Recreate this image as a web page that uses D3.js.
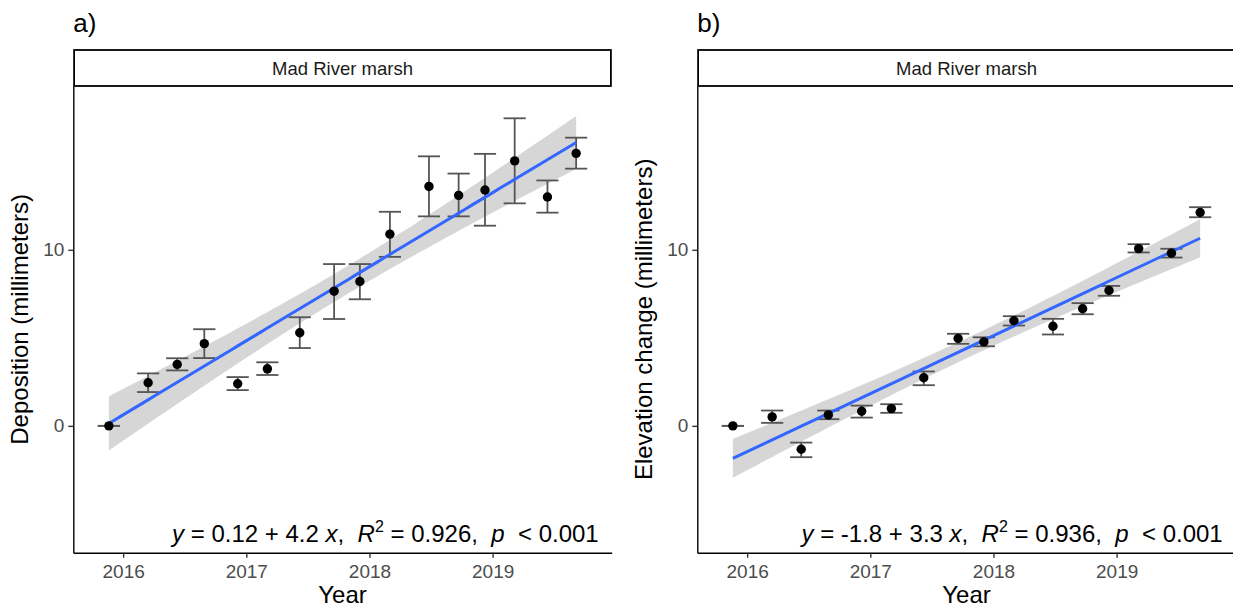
<!DOCTYPE html>
<html>
<head>
<meta charset="utf-8">
<script src="https://cdn.jsdelivr.net/npm/d3@7"></script>
<style>
body { margin: 0; background: #fff; }
text { font-family: "Liberation Sans", Arial, sans-serif; }
</style>
</head>
<body>
<svg id="chart" width="1233" height="609"></svg>
<script>
// sampling dates as decimal years (shared by both panels)
var years = [2015.884, 2016.203, 2016.439, 2016.659, 2016.930, 2017.171, 2017.434, 2017.713,
             2017.922, 2018.166, 2018.483, 2018.724, 2018.938, 2019.179, 2019.445, 2019.678];

// panel a: deposition (mm), with error bar ends
var deposition = [0, 2.45, 3.49, 4.67, 2.39, 3.24, 5.29, 7.65, 8.20, 10.89, 13.60, 13.09, 13.40, 15.05, 13.00, 15.48];
var depositionLow = [0, 1.92, 3.15, 3.85, 2.03, 2.89, 4.42, 6.07, 7.19, 9.60, 11.90, 11.90, 11.37, 12.64, 12.11, 14.61];
var depositionHigh = [0, 2.98, 3.84, 5.49, 2.77, 3.61, 6.17, 9.19, 9.19, 12.16, 15.31, 14.33, 15.45, 17.47, 13.94, 16.37];

// panel b: elevation change (mm), with error bar ends
var elevation = [0, 0.51, -1.33, 0.62, 0.83, 0.98, 2.73, 4.96, 4.77, 5.97, 5.66, 6.65, 7.69, 10.07, 9.81, 12.12];
var elevationLow = [0, 0.17, -1.78, 0.38, 0.47, 0.74, 2.31, 4.66, 4.52, 5.70, 5.19, 6.34, 7.39, 9.85, 9.56, 11.85];
var elevationHigh = [0, 0.87, -0.95, 0.87, 1.15, 1.23, 3.09, 5.23, 5.03, 6.23, 6.08, 6.97, 7.95, 10.32, 10.06, 12.42];

var xTicks = [2016, 2017, 2018, 2019];
var yTicks = [0, 10];
var yLimits = [-6, 18.1];
var panelTags = ["a)", "b)"];
var stripLabel = "Mad River marsh";
var yTitles = ["Deposition (millimeters)", "Elevation change (millimeters)"];
var xTitle = "Year";
var eqIntercept = ["0.12", "-1.8"];
var eqSlope = ["4.2", "3.3"];
var eqR2 = ["0.926", "0.936"];
var eqP = "< 0.001";

var svg = d3.select("#chart");

var panelTop = 86, panelBottom = 552.7, panelW = 538.4;
var panelLefts = [73.3, 697.3];
var capHalf = 0.09;  // half width of error bar caps, in years

function linFit(xs, ys) {
  var n = xs.length;
  var mx = d3.mean(xs), my = d3.mean(ys);
  var sxx = d3.sum(xs, function(x) { return (x - mx) * (x - mx); });
  var sxy = d3.sum(xs, function(x, i) { return (x - mx) * (ys[i] - my); });
  var b = sxy / sxx, a = my - b * mx;
  var s2 = d3.sum(xs, function(x, i) { var r = ys[i] - a - b * x; return r * r; }) / (n - 2);
  return { a: a, b: b, mx: mx, sxx: sxx, s2: s2, n: n };
}

function drawPanel(k, vals, lows, highs) {
  var left = panelLefts[k];
  var g = svg.append("g");

  // ggplot-style 5% expansion around data (incl. cap widths)
  var xmin = d3.min(years) - capHalf, xmax = d3.max(years) + capHalf;
  var xpad = (xmax - xmin) * 0.05;
  var x = d3.scaleLinear().domain([xmin - xpad, xmax + xpad]).range([left, left + panelW]);
  var ypad = (yLimits[1] - yLimits[0]) * 0.05;
  var y = d3.scaleLinear().domain([yLimits[0] - ypad, yLimits[1] + ypad]).range([panelBottom, panelTop]);

  // regression with 95% confidence band
  var x0 = years[0];
  var rel = years.map(function(d) { return d - x0; });
  var f = linFit(rel, vals);
  var tq = 2.144787;  // t(0.975, df = 14)
  var grid = d3.range(0, 81).map(function(i) {
    var xr = d3.min(rel) + (d3.max(rel) - d3.min(rel)) * i / 80;
    var fit = f.a + f.b * xr;
    var se = Math.sqrt(f.s2 * (1 / f.n + (xr - f.mx) * (xr - f.mx) / f.sxx));
    return { x: xr + x0, fit: fit, lo: fit - tq * se, hi: fit + tq * se };
  });

  g.append("path")
    .datum(grid)
    .attr("fill", "#999999")
    .attr("fill-opacity", 0.4)
    .attr("d", d3.area()
      .x(function(d) { return x(d.x); })
      .y0(function(d) { return y(d.lo); })
      .y1(function(d) { return y(d.hi); }));

  // error bars
  var bars = g.append("g").attr("stroke", "#555").attr("stroke-width", 1.8).attr("fill", "none");
  years.forEach(function(yr, i) {
    bars.append("line")
      .attr("x1", x(yr)).attr("x2", x(yr))
      .attr("y1", y(lows[i])).attr("y2", y(highs[i]));
    [lows[i], highs[i]].forEach(function(v) {
      bars.append("line")
        .attr("x1", x(yr - capHalf)).attr("x2", x(yr + capHalf))
        .attr("y1", y(v)).attr("y2", y(v));
    });
  });

  g.append("path")
    .datum(grid)
    .attr("fill", "none")
    .attr("stroke", "#3366FF")
    .attr("stroke-width", 3)
    .attr("d", d3.line()
      .x(function(d) { return x(d.x); })
      .y(function(d) { return y(d.fit); }));

  g.append("g").selectAll("circle")
    .data(vals)
    .enter().append("circle")
    .attr("cx", function(d, i) { return x(years[i]); })
    .attr("cy", function(d) { return y(d); })
    .attr("r", 4.7)
    .attr("fill", "#000");

  // axes
  var xAxis = g.append("g")
    .attr("transform", "translate(0," + panelBottom + ")")
    .call(d3.axisBottom(x).tickValues(xTicks).tickFormat(d3.format("d")).tickSize(5).tickSizeOuter(0).tickPadding(4));
  var yAxis = g.append("g")
    .attr("transform", "translate(" + left + ",0)")
    .call(d3.axisLeft(y).tickValues(yTicks).tickSize(5).tickSizeOuter(0).tickPadding(4));
  [xAxis, yAxis].forEach(function(ax) {
    ax.select(".domain").attr("stroke", "#000").attr("stroke-width", 1.4);
    ax.selectAll(".tick line").attr("stroke", "#333").attr("stroke-width", 1.4);
    ax.selectAll(".tick text")
      .attr("fill", "#4d4d4d")
      .style("font-size", "19px")
      .style("font-family", "'Liberation Sans', Arial, sans-serif");
  });
  xAxis.selectAll(".tick text").attr("dy", "0.88em");

  // strip
  g.append("rect")
    .attr("x", left + 0.8).attr("y", 50)
    .attr("width", panelW - 1.6).attr("height", panelTop - 50)
    .attr("fill", "#fff").attr("stroke", "#000").attr("stroke-width", 1.8);
  g.append("text")
    .attr("x", left + panelW / 2).attr("y", 68)
    .attr("text-anchor", "middle").attr("dominant-baseline", "central")
    .style("font-size", "18.5px").attr("fill", "#1a1a1a")
    .text(stripLabel);

  // panel tag
  g.append("text")
    .attr("x", left).attr("y", 32)
    .style("font-size", "26px").attr("fill", "#000")
    .text(panelTags[k]);

  // axis titles
  g.append("text")
    .attr("x", left + panelW / 2).attr("y", 603)
    .attr("text-anchor", "middle")
    .style("font-size", "24px").attr("fill", "#000")
    .text(xTitle);
  g.append("text")
    .attr("transform", "translate(" + (left - 45) + "," + ((panelTop + panelBottom) / 2) + ") rotate(-90)")
    .attr("text-anchor", "middle")
    .style("font-size", "24px").attr("fill", "#000")
    .text(yTitles[k]);

  // fitted equation label
  var eq = g.append("text")
    .attr("x", left + panelW - 13).attr("y", 542)
    .attr("text-anchor", "end")
    .style("font-size", "24px").style("white-space", "pre").attr("fill", "#000");
  eq.append("tspan").style("font-style", "italic").text("y");
  eq.append("tspan").text(" = " + eqIntercept[k] + " + " + eqSlope[k] + " ");
  eq.append("tspan").style("font-style", "italic").text("x");
  eq.append("tspan").text(",  ");
  eq.append("tspan").style("font-style", "italic").text("R");
  eq.append("tspan").attr("dy", -10).style("font-size", "16px").text("2");
  eq.append("tspan").attr("dy", 10).text(" = " + eqR2[k] + ",  ");
  eq.append("tspan").style("font-style", "italic").text("p");
  eq.append("tspan").text("  " + eqP);
}

drawPanel(0, deposition, depositionLow, depositionHigh);
drawPanel(1, elevation, elevationLow, elevationHigh);
</script>
</body>
</html>
